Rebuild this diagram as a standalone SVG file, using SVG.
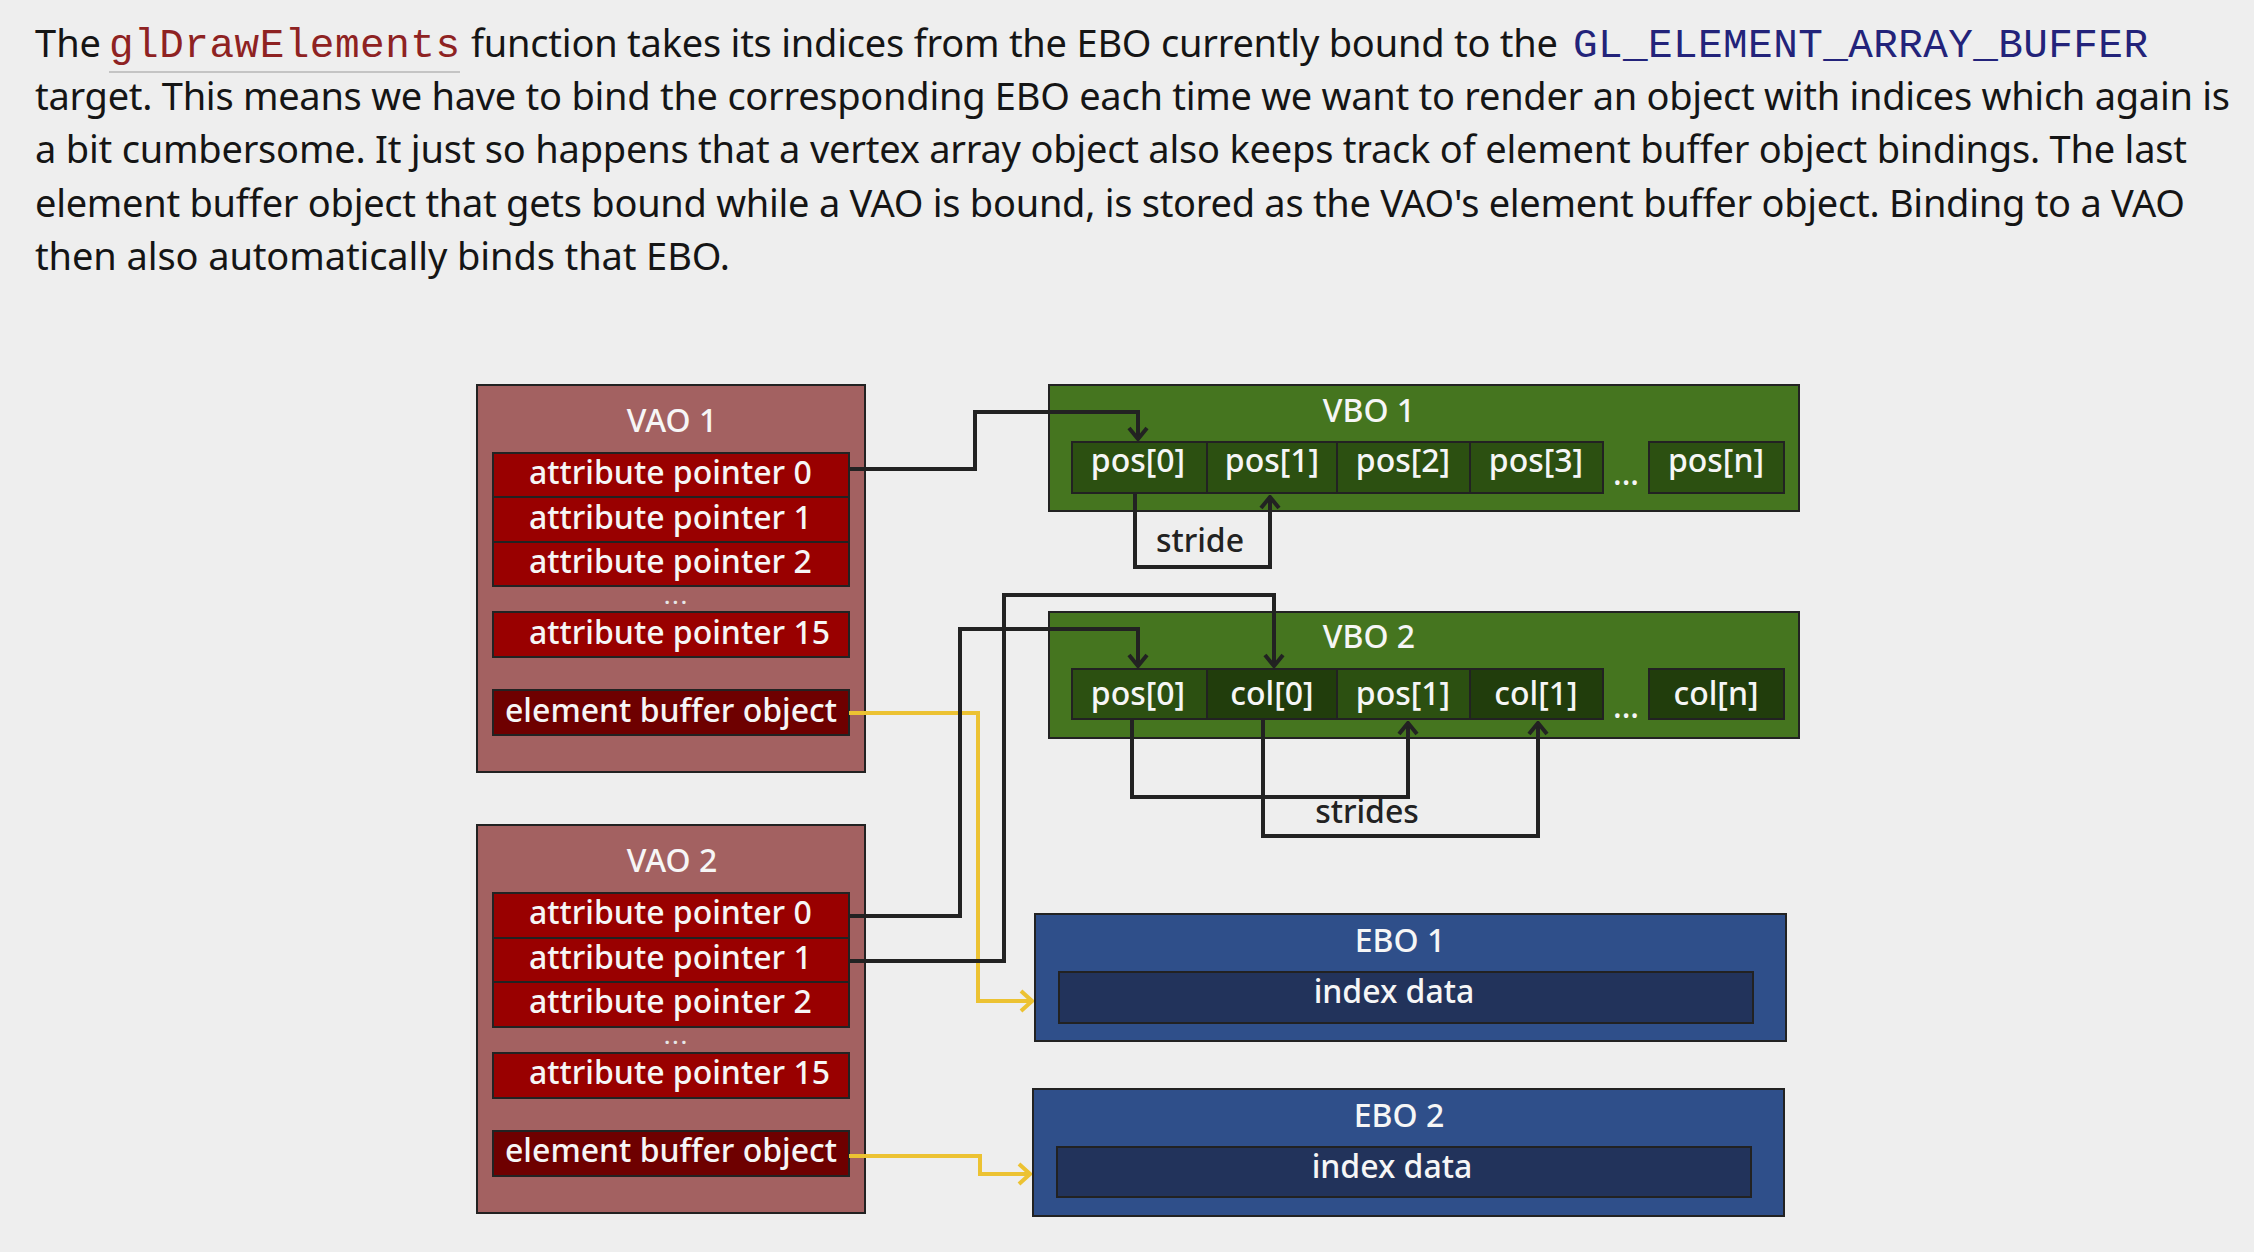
<svg xmlns="http://www.w3.org/2000/svg" width="2254" height="1252" viewBox="0 0 2254 1252">
<defs>
<style>
.para{font-family:"Noto Sans","Open Sans",sans-serif;font-size:38px;fill:#151515}
.code{font-family:"Liberation Mono","DejaVu Sans Mono",monospace;font-size:41px}
.lbl{font-family:"Noto Sans","Open Sans",sans-serif;font-size:32px;font-weight:500;fill:#f6f6f6}
.dots{font-family:"Noto Sans","Open Sans",sans-serif;font-size:19px;font-weight:700;fill:#e6e6e6;letter-spacing:3px}
.dark{fill:#222}
.vao{fill:#a36161;stroke:#222;stroke-width:2}
.attr{fill:#990000;stroke:#222;stroke-width:2}
.ebo-row{fill:#6e0000;stroke:#222;stroke-width:2}
.vbo{fill:#45751f;stroke:#222;stroke-width:2}
.cp{fill:#2c5011;stroke:#222;stroke-width:2}
.cc{fill:#213d0c;stroke:#222;stroke-width:2}
.ebo{fill:#2f4f8a;stroke:#222;stroke-width:2}
.idx{fill:#22335b;stroke:#222;stroke-width:2}
.wire{fill:none;stroke:#222;stroke-width:4}
.ywire{fill:none;stroke:#ecc232;stroke-width:4}
</style>
<marker id="ahk" viewBox="-15 -13 17 26" markerWidth="17" markerHeight="26" refX="0" refY="0" orient="auto" markerUnits="userSpaceOnUse">
<path d="M-11,-9 L0,0 L-11,9" fill="none" stroke="#222" stroke-width="4"/>
</marker>
<marker id="ahy" viewBox="-15 -13 17 26" markerWidth="17" markerHeight="26" refX="0" refY="0" orient="auto" markerUnits="userSpaceOnUse">
<path d="M-11,-10 L0,0 L-11,10" fill="none" stroke="#ecc232" stroke-width="4"/>
</marker>
</defs>
<rect x="0" y="0" width="2254" height="1252" fill="#eeeeee"/>

<g id="paragraph">
<text class="para" x="35" y="57">The</text>
<text class="code" x="109" y="57" fill="#8e2222" textLength="351" lengthAdjust="spacing">glDrawElements</text>
<line x1="109" y1="72" x2="460" y2="72" stroke="#c4c4c4" stroke-width="2"/>
<text class="para" x="471" y="57" textLength="1087" lengthAdjust="spacing">function takes its indices from the EBO currently bound to the</text>
<text class="code" x="1573" y="57" fill="#23237a" textLength="575" lengthAdjust="spacing">GL_ELEMENT_ARRAY_BUFFER</text>
<text class="para" x="35" y="110" textLength="2195" lengthAdjust="spacing">target. This means we have to bind the corresponding EBO each time we want to render an object with indices which again is</text>
<text class="para" x="35" y="163" textLength="2152" lengthAdjust="spacing">a bit cumbersome. It just so happens that a vertex array object also keeps track of element buffer object bindings. The last</text>
<text class="para" x="35" y="217" textLength="2150" lengthAdjust="spacing">element buffer object that gets bound while a VAO is bound, is stored as the VAO's element buffer object. Binding to a VAO</text>
<text class="para" x="35" y="270" textLength="695" lengthAdjust="spacing">then also automatically binds that EBO.</text>
</g>

<g id="vao1">
<rect class="vao" x="477" y="385" width="388" height="387"/>
<text class="lbl" x="672" y="432" text-anchor="middle">VAO 1</text>
<rect class="attr" x="493" y="453" width="356" height="44"/>
<rect class="attr" x="493" y="497" width="356" height="45"/>
<rect class="attr" x="493" y="542" width="356" height="44"/>
<rect class="attr" x="493" y="612" width="356" height="45"/>
<rect class="ebo-row" x="493" y="690" width="356" height="45"/>
<text class="lbl" x="529" y="484">attribute pointer 0</text>
<text class="lbl" x="529" y="529">attribute pointer 1</text>
<text class="lbl" x="529" y="573">attribute pointer 2</text>
<text class="dots" x="677" y="604" text-anchor="middle">...</text>
<text class="lbl" x="529" y="644">attribute pointer 15</text>
<text class="lbl" x="505" y="722">element buffer object</text>
</g>

<g id="vao2">
<rect class="vao" x="477" y="825" width="388" height="388"/>
<text class="lbl" x="672" y="872" text-anchor="middle">VAO 2</text>
<rect class="attr" x="493" y="893" width="356" height="45"/>
<rect class="attr" x="493" y="938" width="356" height="44"/>
<rect class="attr" x="493" y="982" width="356" height="45"/>
<rect class="attr" x="493" y="1053" width="356" height="45"/>
<rect class="ebo-row" x="493" y="1131" width="356" height="45"/>
<text class="lbl" x="529" y="924">attribute pointer 0</text>
<text class="lbl" x="529" y="969">attribute pointer 1</text>
<text class="lbl" x="529" y="1013">attribute pointer 2</text>
<text class="dots" x="677" y="1044" text-anchor="middle">...</text>
<text class="lbl" x="529" y="1084">attribute pointer 15</text>
<text class="lbl" x="505" y="1162">element buffer object</text>
</g>

<g id="vbo1">
<rect class="vbo" x="1049" y="385" width="750" height="126"/>
<text class="lbl" x="1369" y="422" text-anchor="middle">VBO 1</text>
<rect class="cp" x="1072" y="442" width="135" height="51"/>
<rect class="cp" x="1207" y="442" width="130" height="51"/>
<rect class="cp" x="1337" y="442" width="133" height="51"/>
<rect class="cp" x="1470" y="442" width="133" height="51"/>
<rect class="cp" x="1649" y="442" width="135" height="51"/>
<text class="lbl" x="1138" y="472" text-anchor="middle">pos[0]</text>
<text class="lbl" x="1272" y="472" text-anchor="middle">pos[1]</text>
<text class="lbl" x="1403" y="472" text-anchor="middle">pos[2]</text>
<text class="lbl" x="1536" y="472" text-anchor="middle">pos[3]</text>
<text class="lbl" x="1626" y="485" text-anchor="middle" fill="#dddddd">...</text>
<text class="lbl" x="1716" y="472" text-anchor="middle">pos[n]</text>
</g>

<g id="vbo2">
<rect class="vbo" x="1049" y="612" width="750" height="126"/>
<text class="lbl" x="1369" y="648" text-anchor="middle">VBO 2</text>
<rect class="cp" x="1072" y="669" width="135" height="50"/>
<rect class="cc" x="1207" y="669" width="130" height="50"/>
<rect class="cp" x="1337" y="669" width="133" height="50"/>
<rect class="cc" x="1470" y="669" width="133" height="50"/>
<rect class="cc" x="1649" y="669" width="135" height="50"/>
<text class="lbl" x="1138" y="705" text-anchor="middle">pos[0]</text>
<text class="lbl" x="1272" y="705" text-anchor="middle">col[0]</text>
<text class="lbl" x="1403" y="705" text-anchor="middle">pos[1]</text>
<text class="lbl" x="1536" y="705" text-anchor="middle">col[1]</text>
<text class="lbl" x="1626" y="718" text-anchor="middle" fill="#dddddd">...</text>
<text class="lbl" x="1716" y="705" text-anchor="middle">col[n]</text>
</g>

<g id="ebo1">
<rect class="ebo" x="1035" y="914" width="751" height="127"/>
<text class="lbl" x="1400" y="952" text-anchor="middle">EBO 1</text>
<rect class="idx" x="1059" y="972" width="694" height="51"/>
<text class="lbl" x="1394" y="1003" text-anchor="middle">index data</text>
</g>

<g id="ebo2">
<rect class="ebo" x="1033" y="1089" width="751" height="127"/>
<text class="lbl" x="1399" y="1127" text-anchor="middle">EBO 2</text>
<rect class="idx" x="1057" y="1147" width="694" height="50"/>
<text class="lbl" x="1392" y="1178" text-anchor="middle">index data</text>
</g>

<g id="connectors">
<path class="ywire" d="M849,713 H978 V1001 H1032" marker-end="url(#ahy)"/>
<path class="ywire" d="M849,1156 H980 V1174 H1030" marker-end="url(#ahy)"/>
<path class="wire" d="M849,469 H975 V412 H1138 V439" marker-end="url(#ahk)"/>
<path class="wire" d="M849,916 H960 V629 H1138 V666" marker-end="url(#ahk)"/>
<path class="wire" d="M849,961 H1004 V595 H1274 V666" marker-end="url(#ahk)"/>
<path class="wire" d="M1135,493 V567 H1270 V497" marker-end="url(#ahk)"/>
<path class="wire" d="M1132,719 V797 H1408 V723" marker-end="url(#ahk)"/>
<path class="wire" d="M1263,719 V836 H1538 V723" marker-end="url(#ahk)"/>
<text class="lbl dark" x="1200" y="552" text-anchor="middle">stride</text>
<text class="lbl dark" x="1367" y="823" text-anchor="middle">strides</text>
</g>
</svg>
